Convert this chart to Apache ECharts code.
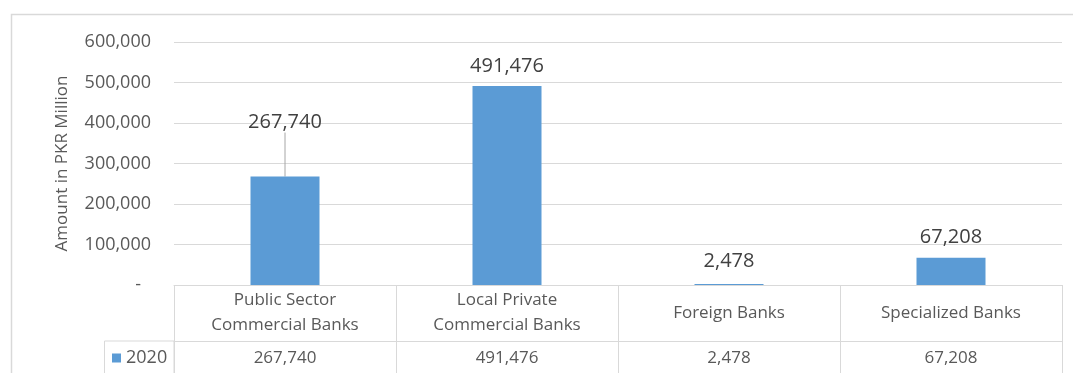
<!DOCTYPE html>
<html>
<head>
<meta charset="utf-8">
<title>Amount in PKR Million by bank group, 2020</title>
<script src="https://cdn.jsdelivr.net/npm/echarts@6/dist/echarts.min.js"></script>
<style>
  html, body { margin: 0; padding: 0; background: #ffffff; }
  #chart { width: 1073px; height: 373px; }
</style>
</head>
<body>
<div id="chart"></div>
<script>
// Bank groups (category axis / table header)
const categories = [
  'Public Sector\nCommercial Banks',
  'Local Private\nCommercial Banks',
  'Foreign Banks',
  'Specialized Banks'
];
// Amounts in PKR million for 2020
const seriesName = '2020';
const values2020 = [267740, 491476, 2478, 67208];
// Value axis range
const yMin = 0;
const yMax = 600000;
const yStep = 100000;

const FONT = '"Open Sans", "Noto Sans", sans-serif';
const GRID_COLOR = '#D9D9D9';
const TEXT_COLOR = '#595959';
const BAR_COLOR = '#5B9BD5';

const fmt = v => Number(v).toLocaleString('en-US');

const chart = echarts.init(document.getElementById('chart'), null, { renderer: 'canvas' });

chart.setOption({
  animation: false,
  backgroundColor: '#ffffff',
  textStyle: { fontFamily: FONT },
  grid: { left: 174, right: 11, top: 42, bottom: 88, containLabel: false },
  legend: {
    data: [seriesName],
    left: 112,
    top: 349,
    padding: 0,
    icon: 'rect',
    itemWidth: 9,
    itemHeight: 9,
    textStyle: { fontFamily: FONT, fontSize: 18, color: TEXT_COLOR }
  },
  xAxis: [
    {
      // Category header row of the data table
      type: 'category',
      data: categories,
      position: 'bottom',
      axisLine: { show: true, lineStyle: { color: GRID_COLOR, width: 1 } },
      axisTick: { show: true, length: 90, lineStyle: { color: GRID_COLOR, width: 1 } },
      axisLabel: {
        margin: 28,
        verticalAlign: 'middle',
        fontFamily: FONT,
        fontSize: 17,
        lineHeight: 25,
        color: TEXT_COLOR,
        interval: 0
      },
      splitLine: { show: false }
    },
    {
      // Values row of the data table
      type: 'category',
      data: values2020.map(fmt),
      position: 'bottom',
      offset: 56,
      axisLine: { show: true, lineStyle: { color: GRID_COLOR, width: 1 } },
      axisTick: { show: false },
      axisLabel: {
        margin: 17,
        verticalAlign: 'middle',
        fontFamily: FONT,
        fontSize: 17,
        color: TEXT_COLOR,
        interval: 0
      },
      splitLine: { show: false }
    }
  ],
  yAxis: {
    type: 'value',
    min: yMin,
    max: yMax,
    interval: yStep,
    name: 'Amount in PKR Million',
    nameLocation: 'middle',
    nameRotate: 90,
    nameGap: 103,
    nameTextStyle: { fontFamily: FONT, fontSize: 17, color: TEXT_COLOR },
    axisLine: { show: false },
    axisTick: { show: false },
    axisLabel: {
      margin: 23,
      fontFamily: FONT,
      fontSize: 18,
      color: TEXT_COLOR,
      formatter: v => (v === 0 ? '{z|-}' : fmt(v)),
      rich: { z: { fontFamily: FONT, fontSize: 18, color: TEXT_COLOR, padding: [0, 10, 0, 0] } }
    },
    splitLine: { show: true, lineStyle: { color: GRID_COLOR, width: 1 } }
  },
  series: [
    {
      name: seriesName,
      type: 'bar',
      xAxisIndex: 0,
      barWidth: 69,
      itemStyle: { color: BAR_COLOR },
      data: values2020.map((v, i) => (i === 0
        ? { value: v, labelLine: { show: true, lineStyle: { color: '#A6A6A6', width: 1 } } }
        : v)),
      label: {
        show: true,
        position: 'top',
        distance: 10,
        fontFamily: FONT,
        fontSize: 20,
        color: '#404040',
        formatter: p => fmt(p.value)
      },
      labelLine: { show: false },
      // The first data label sits higher, joined to its bar by a leader line;
      // the tiny Foreign Banks bar keeps its label a little clear of the axis
      labelLayout: p => (p.dataIndex === 0 ? { dy: -34 } : (p.dataIndex === 2 ? { dy: -3 } : {}))
    }
  ],
  graphic: [
    {
      // Outer chart border
      type: 'rect',
      silent: true,
      shape: { x: 11.5, y: 14.5, width: 1080, height: 400 },
      style: { fill: 'none', stroke: GRID_COLOR, lineWidth: 1.5 }
    },
    {
      // Legend-key cell at the left of the values row
      type: 'rect',
      silent: true,
      shape: { x: 104.5, y: 341, width: 69.5, height: 60 },
      style: { fill: 'none', stroke: GRID_COLOR, lineWidth: 1 }
    }
  ]
});
</script>
</body>
</html>
